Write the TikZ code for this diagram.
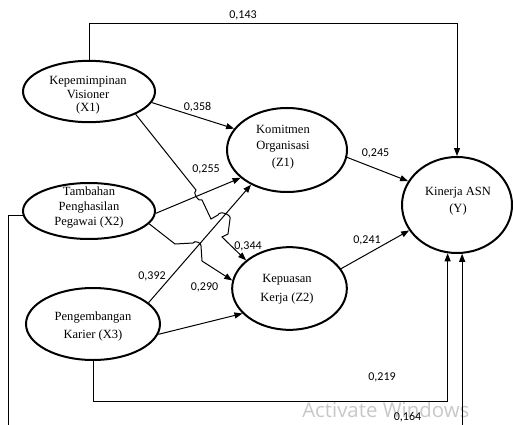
\documentclass[tikz,border=0pt]{standalone}
\usepackage{fontspec}
\setmainfont{Liberation Serif}
\newfontfamily\lblfont{Carlito}
\newfontfamily\wmfont{Open Sans}
\usetikzlibrary{arrows.meta,shapes.geometric}
\definecolor{wmgray}{RGB}{200,200,200}
\begin{document}
\begin{tikzpicture}[x=0.75pt,y=-0.75pt,
  var/.style={draw,ellipse,line width=1.5pt,inner sep=0pt},
  txt/.style={align=center,inner sep=0pt},
  conn/.style={line width=0.75pt,-{Triangle[length=6pt,width=4.5pt]}},
  lbl/.style={font=\lblfont\fontsize{9}{10}\selectfont,inner sep=0pt}]
\clip (0,0) rectangle (513,424);
% watermark
\node[anchor=base west,inner sep=0pt,text=wmgray,font=\wmfont\fontsize{15.3}{17}\selectfont] (wm) at (302,417) {Activate Windows};
% variables
\node[var,minimum width=99pt,minimum height=46pt] (X1) at (89,91.5) {};
\node[var,minimum width=99pt,minimum height=42pt] (X2) at (89,211) {};
\node[var,minimum width=100.5pt,minimum height=54pt] (X3) at (93,324) {};
\node[var,minimum width=90pt,minimum height=63pt] (Z1) at (287,150) {};
\node[var,minimum width=86pt,minimum height=62pt] (Z2) at (289.5,288.5) {};
\node[var,minimum width=82.5pt,minimum height=72pt] (Y) at (457,205) {};
% texts
\node[txt,font=\fontsize{9.4}{10.1}\selectfont] (X1t) at (88,95.5) {Kepemimpinan\\Visioner\\(X1)};
\node[txt,font=\fontsize{9.4}{10.9}\selectfont] (X2t) at (89,207.5) {Tambahan\\Penghasilan\\Pegawai (X2)};
\node[txt,font=\fontsize{9.4}{13.5}\selectfont] (X3t) at (93,326) {Pengembangan\\Karier (X3)};
\node[txt,font=\fontsize{9.4}{12.4}\selectfont] (Z1t) at (283,147) {Komitmen\\Organisasi\\(Z1)};
\node[txt,font=\fontsize{9.4}{14.2}\selectfont] (Z2t) at (287,289.5) {Kepuasan\\Kerja (Z2)};
\node[txt,font=\fontsize{9.4}{12.8}\selectfont] (Yt) at (458,201.5) {Kinerja ASN\\(Y)};
% straight connectors
\draw[conn] (X1.-10) -- (Z1.158.6);
\draw[conn] (X2.-2) -- (Z1.-149);
\draw[conn] (X3.21.8) -- (Z1.-136);
\draw[conn] (X3.-9.3) -- (Z2.-152);
\draw[conn] (Z1.-7.7) -- (Y.154.7);
\draw[conn] (Z2.21.3) -- (Y.-152.6);
% elbow connectors
\draw[conn] (X1.north) -- ++(0,-36) -| (Y.north);
\draw[conn] (X3.south) -- ++(0,40) -| (Y.-101);
\draw[conn] (X2.184) -- ++(-14,0) -- ++(0,240) -| (Y.-84);
% wiggly connectors with hops
\draw[conn] (X1.-26) -- (196,190) to[bend right=90] (202,200) -- (211,219)
  -- (218,215) to[bend left=90] (230,219) -- (228,234) -- (222,237) -- (Z2.147);
\draw[conn] (X2.-12.3) -- (175,244) -- (193,243) to[bend left=90] (201,246)
  -- (202,261) -- (Z2.172);
% labels
\node[lbl] (l143) at (243,15) {0,143};
\node[lbl] (l358) at (197.5,107) {0,358};
\node[lbl] (l255) at (206,169) {0,255};
\node[lbl] (l392) at (152,276) {0,392};
\node[lbl] (l290) at (204.5,287) {0,290};
\node[lbl] (l344) at (248,246) {0,344};
\node[lbl] (l245) at (375.5,153) {0,245};
\node[lbl] (l241) at (367,240) {0,241};
\node[lbl] (l219) at (382,377) {0,219};
\node[lbl] (l164) at (407.5,417.5) {0,164};
\end{tikzpicture}
\end{document}
